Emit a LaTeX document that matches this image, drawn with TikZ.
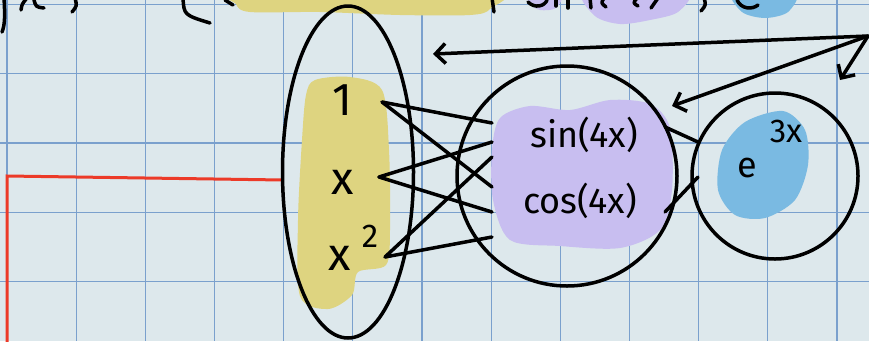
\documentclass[tikz,border=0pt]{standalone}
\usepackage{fontspec}
\setmainfont{Fira Sans}
\usetikzlibrary{arrows.meta,positioning}

\definecolor{paper}{RGB}{221,232,236}
\definecolor{gridblue}{RGB}{122,160,205}
\definecolor{hlyellow}{RGB}{222,212,128}
\definecolor{hlpurple}{RGB}{200,190,240}
\definecolor{hlblue}{RGB}{122,186,226}
\definecolor{redpen}{RGB}{236,58,40}

\tikzset{
  pen/.style={line width=3.5pt,line cap=round,line join=round},
  hand/.style={inner sep=0pt,font=\fontsize{36}{40}\selectfont},
  bighand/.style={inner sep=0pt,font=\fontsize{46}{50}\selectfont},
  supscript/.style={inner sep=0pt,font=\fontsize{33}{35}\selectfont},
}

\begin{document}
\begin{tikzpicture}[x=1pt,y=-1pt,>={Straight Barb[length=10pt,width=20pt]}]
			\useasboundingbox (0,0) rectangle (869,341);
			\clip (0,0) rectangle (869,341);
			\fill[paper] (0,0) rectangle (869,341);
			% grid paper
			\foreach \i in {0,...,12}{
				\draw[gridblue,line width=1.2pt] ({7+69.17*\i},0) -- ({7+69.17*\i},341);
			}
			\foreach \j in {0,...,4}{
				\draw[gridblue,line width=1.2pt] (0,{4.5+69.2*\j}) -- (869,{4.5+69.2*\j});
			}
			% highlighter
			\fill[hlyellow] plot[smooth cycle] coordinates {(315,80) (350,77) (382,90) (389,150) (390,230) (386,265) (358,272) (352,295) (328,309) (300,296) (298,220) (302,140) (306,95)};
			\fill[hlyellow] plot[smooth cycle] coordinates {(236,-12) (494,-12) (490,9) (470,15) (400,15) (320,12) (250,12) (236,4)};
			\fill[hlpurple] plot[smooth cycle] coordinates {(500,118) (530,106) (570,110) (610,100) (650,104) (670,128) (672,190) (660,230) (620,248) (560,246) (510,240) (493,200) (492,150)};
			\fill[hlpurple] plot[smooth cycle] coordinates {(528,-8) (562,-8) (556,8) (540,10) (530,4)};
			\fill[hlpurple] plot[smooth cycle] coordinates {(586,-8) (685,-8) (678,12) (650,20) (620,24) (595,16)};
			\fill[hlblue] plot[smooth cycle] coordinates {(783,111) (805,130) (808,165) (795,200) (765,218) (735,215) (718,190) (722,150) (745,122)};
			\fill[hlblue] plot[smooth cycle] coordinates {(733,-8) (795,-8) (788,12) (765,18) (742,12)};
			% cut-off line of text at the top
			\draw[pen] (4,-2) .. controls (5,15) and (5,25) .. (2,32);
			\draw[pen] (27,-2) .. controls (22,4) .. (21,10);
			\draw[pen] (34,0) .. controls (36,7) .. (44,8);
			\draw[pen] (75,-2) .. controls (77,6) .. (72,12);
			\draw[pen] (183,-2) .. controls (184,15) .. (210,23);
			\draw[pen] (225,0) -- (233,5);
			\draw[pen] (492,-2) -- (494,12);
			\draw[pen] (528,2) .. controls (535,9) and (545,6) .. (547,0);
			\draw[pen] (556,-2) -- (556,6);
			\draw[pen] (568,-2) -- (568,8);
			\draw[pen] (590,-2) -- (591,8);
			\draw[pen] (604,-2) .. controls (601,3) .. (606,7);
			\draw[pen] (637,-2) .. controls (633,3) .. (638,6);
			\draw[pen] (658,-2) -- (651,8);
			\draw[pen] (704,-2) .. controls (706,5) .. (701,11);
			\draw[pen] (737,0) .. controls (741,9) and (752,10) .. (758,5);
			% red frame
			\draw[redpen,line width=3pt] (7,345) -- (7,176) -- (283,180);
			% sets
			\draw[pen] (348,172) ellipse [x radius=65.5pt, y radius=166pt];
			\draw[pen] (567,176) circle [radius=110pt];
			\draw[pen] (775,176) circle [radius=83pt];
			\node[bighand] (one) at (342,100) {1};
			\node[bighand] (ex) at (343,182) {x};
			\node[bighand] (exsq) at (340,258) {x};
			\node[supscript] (two) at (370,236) {2};
			\node[hand] (sine) at (584,135) {sin(4x)};
			\node[hand] (cosine) at (580,201) {cos(4x)};
			\node[hand] (expo) at (747,168) {e};
			\node[supscript] (expo3x) at (786,131) {3x};
			% connectors
			\coordinate (o1) at (382,102);
			\coordinate (o2) at (379,177);
			\coordinate (o3) at (385,257);
			\coordinate (s1) at (492,123);
			\coordinate (s2) at (492,142);
			\coordinate (s3) at (492,157);
			\coordinate (s4) at (492,187);
			\coordinate (s5) at (492,212);
			\coordinate (s6) at (492,237);
			\draw[pen] (o1) -- (s1);
			\draw[pen] (o1) -- (s4);
			\draw[pen] (o2) -- (s2);
			\draw[pen] (o2) -- (s5);
			\draw[pen] (o3) -- (s3);
			\draw[pen] (o3) -- (s6);
			\coordinate (m1) at (665,127);
			\coordinate (m2) at (665,212);
			\coordinate (r1) at (698,142);
			\coordinate (r2) at (698,177);
			\draw[pen] (m1) -- (r1);
			\draw[pen] (m2) -- (r2);
			% arrows
			\coordinate (hub) at (868,36);
			\coordinate (t1) at (433,54);
			\coordinate (t2) at (672,106);
			\coordinate (t3) at (840,80);
			\draw[pen,->] (hub) -- (t1);
			\draw[pen,->] (hub) -- (t2);
			\draw[pen,->] (hub) -- (t3);
		\end{tikzpicture}
\end{document}
